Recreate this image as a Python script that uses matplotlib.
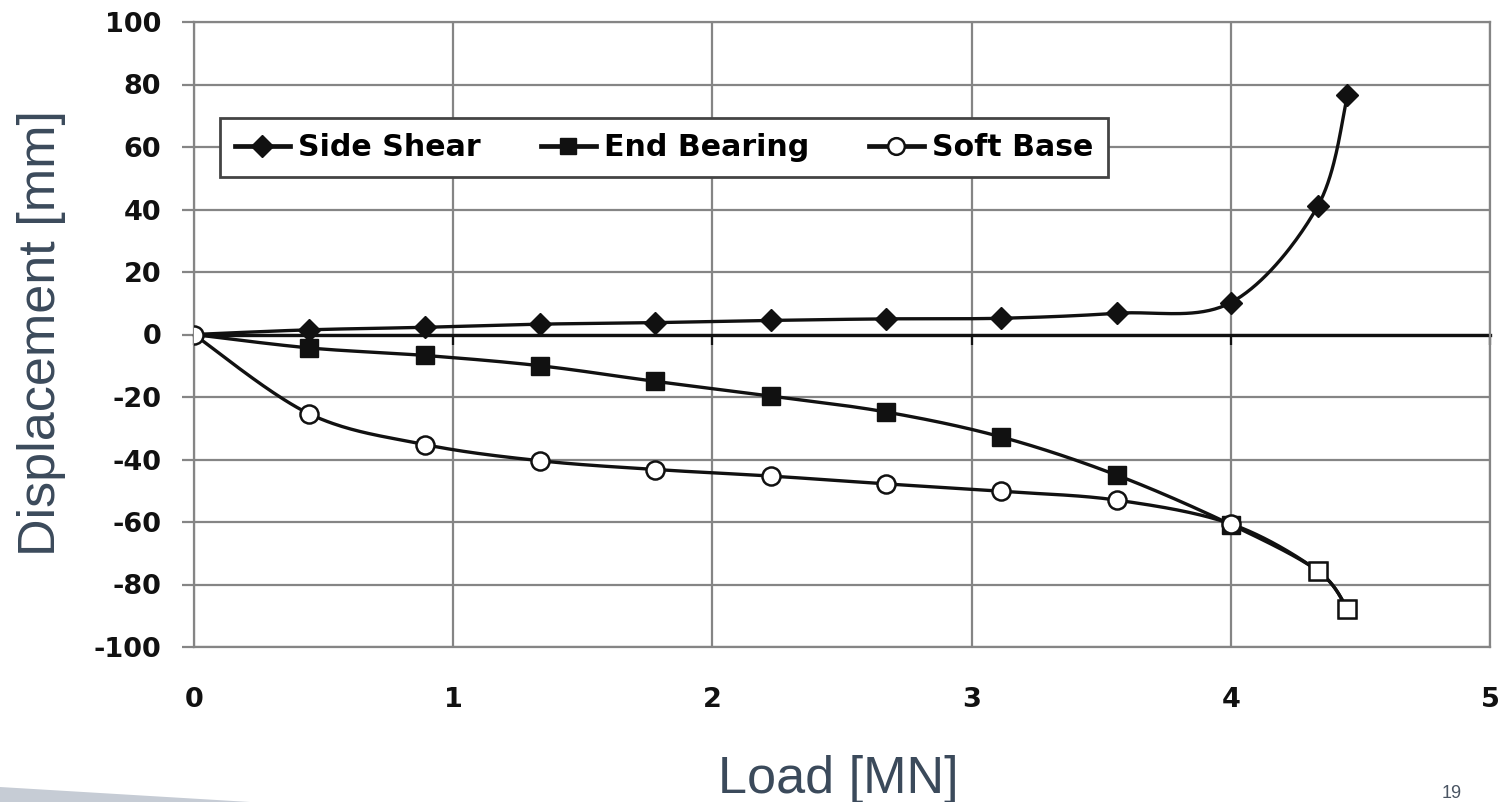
import numpy as np
import matplotlib
matplotlib.use("Agg")
import matplotlib.pyplot as plt
from matplotlib.lines import Line2D
from matplotlib.patches import Polygon

# ---------------- data ----------------
load = [0, 0.445, 0.89, 1.335, 1.78, 2.225, 2.67, 3.115, 3.56, 4.0, 4.335, 4.45]
side_shear = [0, 1.5, 2.3, 3.3, 3.8, 4.5, 5.0, 5.2, 6.8, 10.2, 41.0, 76.5]
end_bearing = [0, -4.3, -6.7, -10.0, -15.0, -19.7, -24.8, -32.8, -45.0, -60.8, -75.6, -87.8]
soft_base = [0, -25.4, -35.2, -40.4, -43.2, -45.3, -47.8, -50.2, -53.0, -60.6, -75.6, -87.8]
series_names = ["Side Shear", "End Bearing", "Soft Base"]
x_ticks = [0, 1, 2, 3, 4, 5]
y_ticks = [-100, -80, -60, -40, -20, 0, 20, 40, 60, 80, 100]
x_label = "Load [MN]"
y_label = "Displacement [mm]"
page_number = "19"


def smooth(x, y, n=40):
    """Excel-style smoothed line (Catmull-Rom as cubic Bezier segments)."""
    P = np.column_stack([np.asarray(x, float), np.asarray(y, float)])
    Pp = np.vstack([P[0], P, P[-1]])
    t = np.linspace(0, 1, n)[:, None]
    segs = []
    for i in range(len(P) - 1):
        p0, p3 = P[i], P[i + 1]
        p1 = p0 + (Pp[i + 2] - Pp[i]) / 6.0
        p2 = p3 - (Pp[i + 3] - Pp[i + 1]) / 6.0
        seg = ((1 - t) ** 3) * p0 + 3 * ((1 - t) ** 2) * t * p1 + 3 * (1 - t) * t ** 2 * p2 + t ** 3 * p3
        segs.append(seg if i == 0 else seg[1:])
    S = np.vstack(segs)
    return S[:, 0], S[:, 1]


W, H = 1499, 802
fig = plt.figure(figsize=(W / 100, H / 100), dpi=100)
fig.patch.set_facecolor("white")

ax = fig.add_axes([194 / W, 1 - 647 / H, 1296 / W, 625 / H])
ax.set_xlim(0, 5)
ax.set_ylim(-100, 100)

grid_col = "#858585"
ax.set_xticks(x_ticks)
ax.set_yticks(y_ticks)
ax.grid(True, color=grid_col, lw=1.6)
ax.set_axisbelow(True)
for s in ax.spines.values():
    s.set_color(grid_col)
    s.set_linewidth(1.6)

tick_font = dict(family="DejaVu Sans", weight="bold", size=19.5)
ax.set_xticklabels([str(v) for v in x_ticks], **tick_font)
ax.set_yticklabels([str(v) for v in y_ticks], **tick_font)
ax.tick_params(axis="x", length=0, pad=29, colors="#111111")
ax.tick_params(axis="y", length=8.6, width=1.6, color=grid_col, pad=15, labelcolor="#111111")

# horizontal category axis crossing at y = 0, with its tick marks
ax.axhline(0, color="#111111", lw=2.4, zorder=2, clip_on=False)
ax.plot(x_ticks, [0] * len(x_ticks), ls="none", marker=3, ms=7, mew=1.6,
        color="#111111", zorder=2, clip_on=False)

line_kw = dict(color="#111111", lw=2.4, solid_capstyle="round", zorder=3)

# Side shear
xs, ys = smooth(load, side_shear)
ax.plot(xs, ys, **line_kw)
ax.plot(load[1:], side_shear[1:], ls="none", marker="D", ms=11, color="#111111", zorder=4)

# End bearing
xs, ys = smooth(load, end_bearing)
ax.plot(xs, ys, **line_kw)
ax.plot(load[1:], end_bearing[1:], ls="none", marker="s", ms=12.5, color="#111111", zorder=4)

# Soft base
xs, ys = smooth(load, soft_base)
ax.plot(xs, ys, **line_kw)
ax.plot(load[:10], soft_base[:10], ls="none", marker="o", ms=13, mfc="white",
        mec="#111111", mew=1.8, zorder=5)
ax.plot(load[10:], soft_base[10:], ls="none", marker="s", ms=12.5, mfc="white",
        mec="#111111", mew=1.8, zorder=5)

handles = [
    Line2D([], [], color="#111111", lw=3.4, marker="D", ms=11),
    Line2D([], [], color="#111111", lw=3.4, marker="s", ms=12),
    Line2D([], [], color="#111111", lw=3.4, marker="o", ms=12, mfc="white", mew=1.8),
]
leg = ax.legend(handles, series_names, loc="upper left", bbox_to_anchor=(0.0201, 0.8464),
                borderaxespad=0, ncol=3, frameon=True, fancybox=False, framealpha=1,
                edgecolor="#444444", prop=dict(family="DejaVu Sans", weight="bold", size=21.6),
                handlelength=1.83, handletextpad=0.27, columnspacing=2.0, borderpad=0.5)
leg.get_frame().set_linewidth(2.0)
leg.set_zorder(6)

label_col = "#3b4a5b"
label_font = dict(family="Liberation Sans", size=37.5, color=label_col)
ax.set_xlabel(x_label, **label_font)
ax.xaxis.label.set_va("baseline")
ax.xaxis.set_label_coords((838 - 194) / 1296, (647 - 793) / 625)
ax.set_ylabel(y_label, **label_font)
ax.yaxis.label.set_va("baseline")
ax.yaxis.set_label_coords((55 - 194) / 1296, (647 - 333) / 625)

# slide decoration
fig.patches.append(Polygon([(0, 1 - 787 / H), (0, 0), (250 / W, 0)], closed=True,
                           transform=fig.transFigure, facecolor="#c6ccd5", edgecolor="none"))
fig.text(1452 / W, 1 - 794 / H, page_number, ha="center", va="center", fontsize=13,
         family="Liberation Sans", color="#4a5563")

fig.savefig("out.png", dpi=100, facecolor="white")
